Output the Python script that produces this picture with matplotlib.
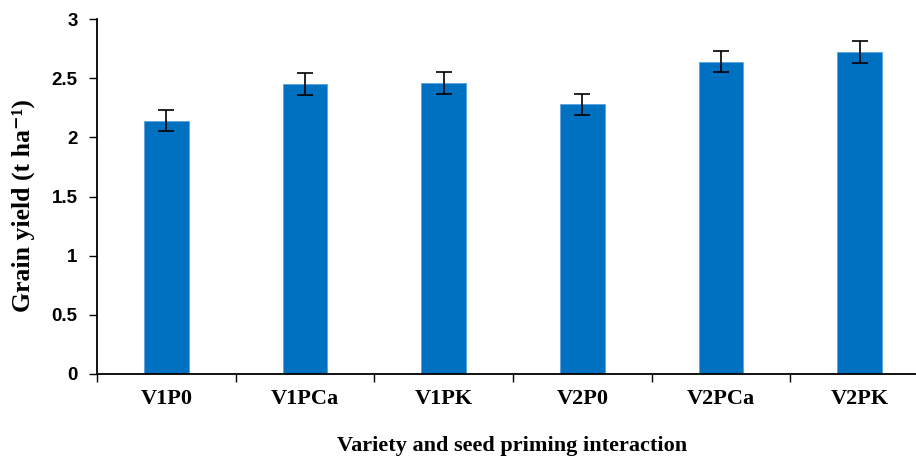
import matplotlib
matplotlib.use("Agg")
import matplotlib.pyplot as plt

categories = ["V1P0", "V1PCa", "V1PK", "V2P0", "V2PCa", "V2PK"]
grain_yield = [2.14, 2.45, 2.46, 2.28, 2.64, 2.72]
yield_err = [0.09, 0.09, 0.09, 0.09, 0.09, 0.09]
y_ticks = [0, 0.5, 1, 1.5, 2, 2.5, 3]
y_tick_labels = ["0", "0.5", "1", "1.5", "2", "2.5", "3"]

W, H = 916, 457
fig = plt.figure(figsize=(W / 100, H / 100), dpi=100)

# axes extend a little beyond the right edge of the figure
left, right_px, top, bottom = 97, 929, 19, 374
ax = fig.add_axes([left / W, 1 - bottom / H, (right_px - left) / W, (bottom - top) / H])

x = list(range(len(categories)))
ax.bar(x, grain_yield, width=0.32, color="#0070C0", edgecolor="#5BA3DC", linewidth=0.6,
       yerr=yield_err, error_kw=dict(ecolor="black", elinewidth=1.2, capsize=6, capthick=1.2),
       zorder=2)

ax.set_xlim(-0.5, len(categories) - 0.5)
ax.set_ylim(0, 3)
ax.set_yticks(y_ticks)
ax.set_yticklabels(y_tick_labels, fontfamily="Liberation Sans", fontweight="bold", fontsize=13.5)

ax.set_xticks([i - 0.5 for i in range(len(categories) + 1)])
ax.set_xticklabels([])
ax.set_xticks(x, minor=True)
ax.set_xticklabels(categories, minor=True, fontfamily="Liberation Serif",
                   fontweight="bold", fontsize=16)
ax.tick_params(axis="x", which="minor", length=0, pad=11)
ax.tick_params(axis="x", which="major", length=6, direction="out", width=1)
ax.tick_params(axis="y", length=6, direction="out", width=1, pad=8)

for side in ("top", "right"):
    ax.spines[side].set_visible(False)
for side in ("left", "bottom"):
    ax.spines[side].set_linewidth(1.3)

serif = ["Liberation Serif", "DejaVu Serif"]
fig.text(23 / W, 1 - 206 / H, "Grain yield (t ha\u207b\u00b9)", rotation=90,
         ha="center", va="center", fontfamily=serif, fontweight="bold", fontsize=18.5)
fig.text(512 / W, 1 - 451 / H, "Variety and seed priming interaction", ha="center",
         va="baseline", fontfamily=serif, fontweight="bold", fontsize=16)

fig.savefig("out.png", dpi=100)
